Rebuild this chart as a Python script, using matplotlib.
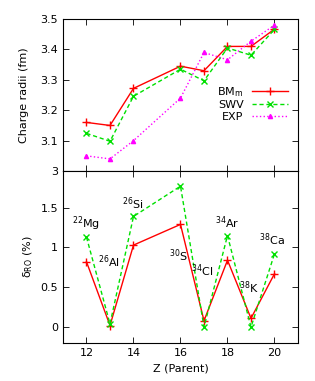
import matplotlib
matplotlib.use('Agg')
import matplotlib.pyplot as plt
import numpy as np

# data
Z = [12, 13, 14, 16, 17, 18, 19, 20]

BMm_radii = [3.160, 3.150, 3.272, 3.345, 3.330, 3.410, 3.410, 3.467]
SWV_radii = [3.124, 3.098, 3.246, 3.335, 3.297, 3.405, 3.381, 3.466]
EXP_radii = [3.050, 3.040, 3.100, 3.240, 3.390, 3.366, 3.427, 3.480]

BMm_dro = [0.82, 0.02, 1.03, 1.29, 0.08, 0.84, 0.11, 0.67]
SWV_dro = [1.13, 0.04, 1.39, 1.77, 0.00, 1.15, 0.00, 0.92]

nuclei = ['$^{22}$Mg', '$^{26}$Al', '$^{26}$Si', '$^{30}$S', '$^{34}$Cl', '$^{34}$Ar', '$^{38}$K', '$^{38}$Ca']
label_x = [12.0, 12.97, 13.95, 15.9, 16.9, 18.0, 18.9, 19.9]
label_y = [1.30, 0.82, 1.55, 0.90, 0.71, 1.31, 0.50, 1.10]

red = '#ff0000'
green = '#00e000'
magenta = '#ff00ff'

plt.rcParams['font.family'] = 'DejaVu Sans'
plt.rcParams['font.size'] = 8
plt.rcParams['mathtext.default'] = 'regular'

fig = plt.figure(figsize=(3.15, 3.81), dpi=100)
ax1 = fig.add_axes([0.2, 0.551, 0.746, 0.399])
ax2 = fig.add_axes([0.2, 0.0997, 0.746, 0.4513])

ax1.plot(Z, BMm_radii, color=red, marker='+', ms=6, lw=1, label='BM$_m$')
ax1.plot(Z, SWV_radii, color=green, marker='x', ms=5, lw=1, ls='--', dashes=(3, 2), label='SWV')
ax1.plot(Z, EXP_radii, color=magenta, marker='^', ms=3, lw=1, ls=':', label='EXP')
ax1.set_xlim(11, 21)
ax1.set_ylim(3.0, 3.5)
ax1.set_yticks([3.0, 3.1, 3.2, 3.3, 3.4, 3.5])
ax1.set_yticklabels(['3', '3.1', '3.2', '3.3', '3.4', '3.5'])
ax1.set_xticks([12, 14, 16, 18, 20])
ax1.set_xticklabels([])
ax1.set_ylabel('Charge radii (fm)', labelpad=8)
ax1.legend(loc='center right', bbox_to_anchor=(1.0, 0.445), frameon=False, markerfirst=False,
           handlelength=3.2, labelspacing=0.15, fontsize=8)

ax2.plot(Z, BMm_dro, color=red, marker='+', ms=6, lw=1)
ax2.plot(Z, SWV_dro, color=green, marker='x', ms=5, lw=1, ls='--', dashes=(3, 2))
for name, x, y in zip(nuclei, label_x, label_y):
    ax2.text(x, y, name, ha='center', va='center', fontsize=8)
ax2.set_xlim(11, 21)
ax2.set_ylim(-0.2, 1.96)
ax2.set_yticks([0, 0.5, 1.0, 1.5])
ax2.set_yticklabels(['0', '0.5', '1', '1.5'])
ax2.set_xticks([12, 14, 16, 18, 20])
ax2.set_xlabel('Z (Parent)')
ax2.set_ylabel(r'$\delta_{RO}$ (%)')

for ax in (ax1, ax2):
    ax.tick_params(direction='in', top=True, right=True, length=4, width=0.6)
    for s in ax.spines.values():
        s.set_linewidth(0.8)

fig.savefig('out.png', dpi=100)
